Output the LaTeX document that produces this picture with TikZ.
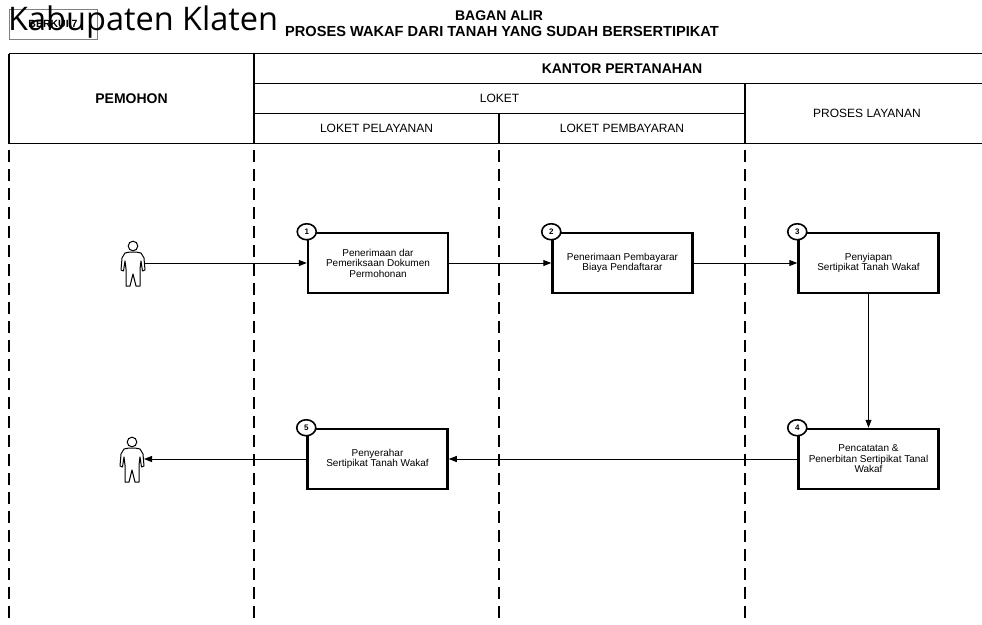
\documentclass[tikz,border=0pt]{standalone}
\usepackage{fontspec}
\setmainfont{Liberation Sans}
\newfontfamily\kabfont{Open Sans}
\usetikzlibrary{arrows.meta,shapes.geometric}
\tikzset{
  man/.pic={
    \draw[line width=1pt, fill=white] (0,-6) circle [radius=4.8];
    \draw[line width=1pt, fill=white, line join=round] (-3,0) -- (-8,1) -- (-11,6) -- (-12,18) -- (-9.5,19) -- (-8,9) -- (-7,17) -- (-7,34) -- (-3,34) -- (0,22) -- (3,34) -- (7,34) -- (7,17) -- (8,9) -- (9.5,19) -- (12,18) -- (11,6) -- (8,1) -- (3,0) -- cycle;
  }
}
\begin{document}
\begin{tikzpicture}[x=1pt,y=-1pt,
  tbl/.style={line width=1.6pt},
  lane/.style={line width=1.3pt, dash pattern=on 12pt off 7pt},
  procbox/.style={draw, line width=2.5pt, minimum width=140pt, minimum height=60pt, align=center, font=\fontsize{10}{10.5}\selectfont, inner sep=2pt},
  numc/.style={draw, ellipse, fill=white, line width=1.6pt, minimum width=19pt, minimum height=16pt, inner sep=0pt, font=\fontsize{8}{8}\selectfont\bfseries},
  conn/.style={line width=1pt, -{Triangle[length=8pt,width=6pt]}},
  hb/.style={font=\fontsize{14}{14}\selectfont\bfseries, inner sep=0pt},
  hr/.style={font=\fontsize{12}{12}\selectfont, inner sep=0pt},
  ghost/.style={inner sep=0pt, minimum width=24pt, minimum height=46pt}
]
\useasboundingbox (0,0) rectangle (982,624);

% top-left label box and heading
\node[draw=gray, line width=1pt, minimum width=88pt, minimum height=30pt, inner sep=0pt, font=\fontsize{10.5}{10.5}\selectfont\bfseries] (lbl) at (53,24) {BERKUI 7};
\node[anchor=base west, inner sep=0pt, font=\kabfont\fontsize{32.5}{32.5}\selectfont] (kab) at (8,30) {Kabupaten Klaten};

\node[hb] (t1) at (499,16) {BAGAN ALIR};
\node[hb, font=\fontsize{14.6}{14.6}\selectfont\bfseries] (t2) at (502,31) {PROSES WAKAF DARI TANAH YANG SUDAH BERSERTIPIKAT};

% header table
\draw[tbl] (9,53.5) -- (982,53.5);
\draw[tbl] (254,83.5) -- (982,83.5);
\draw[tbl] (254,113.5) -- (745,113.5);
\draw[tbl] (9,143.5) -- (982,143.5);
\draw[tbl] (9,53.5) -- (9,143.5);
\draw[tbl] (254,53.5) -- (254,143.5);
\draw[tbl] (499,113.5) -- (499,143.5);
\draw[tbl] (745,83.5) -- (745,143.5);

\node[hb] (h1) at (622,68.5) {KANTOR PERTANAHAN};
\node[hb] (h2) at (131.5,98.5) {PEMOHON};
\node[hr] (h3) at (499.5,98.5) {LOKET};
\node[hr] (h4) at (867,113.5) {PROSES LAYANAN};
\node[hr] (h5) at (376.5,128.5) {LOKET PELAYANAN};
\node[hr] (h6) at (622,128.5) {LOKET PEMBAYARAN};

% swimlane separators
\draw[lane] (9,150) -- (9,624);
\draw[lane] (254,150) -- (254,624);
\draw[lane] (499,150) -- (499,624);
\draw[lane] (745,150) -- (745,624);

% persons
\node[ghost] (p1) at (133,264) {};
\pic at (133,252) {man};
\coordinate (p1h) at (145,263);
\node[ghost] (p2) at (132,460) {};
\pic at (132,448) {man};
\coordinate (p2h) at (144,459);

% process boxes
\node[procbox] (b1) at (378,263) {Penerimaan dar\\Pemeriksaan Dokumen\\Permohonan};
\node[procbox] (b2) at (622.5,263) {Penerimaan Pembayarar\\Biaya Pendaftarar};
\node[procbox] (b3) at (868.5,263) {Penyiapan\\Sertipikat Tanah Wakaf};
\node[procbox] (b4) at (868.5,459) {Pencatatan \&\\Penerbitan Sertipikat Tanal\\Wakaf};
\node[procbox] (b5) at (377.5,459) {Penyerahar\\Sertipikat Tanah Wakaf};

\node[numc] (n1) at (b1.north west) {1};
\node[numc] (n2) at (b2.north west) {2};
\node[numc] (n3) at (b3.north west) {3};
\node[numc] (n4) at (b4.north west) {4};
\node[numc] (n5) at (b5.north west) {5};

% connectors
\draw[conn] (p1h) -- (b1.west);
\draw[conn] (b1.east) -- (b2.west);
\draw[conn] (b2.east) -- (b3.west);
\draw[conn] (b3.south) -- (b4.north);
\draw[conn] (b4.west) -- (b5.east);
\draw[conn] (b5.west) -- (p2h);
\end{tikzpicture}
\end{document}
